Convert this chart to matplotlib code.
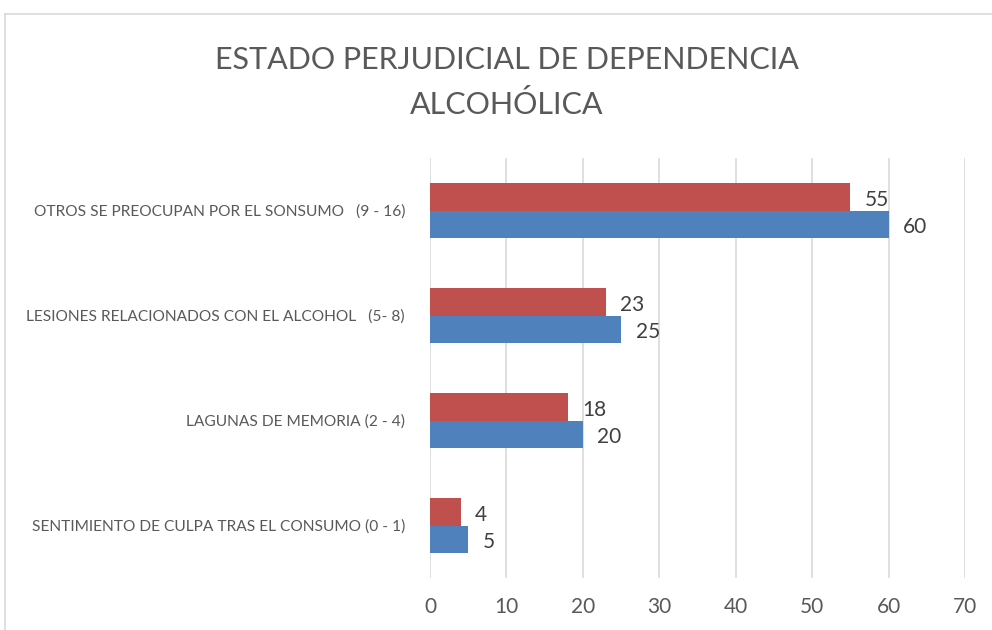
import matplotlib
matplotlib.use("Agg")
import matplotlib.pyplot as plt
from matplotlib.lines import Line2D
import numpy as np

categories = [
    "OTROS SE PREOCUPAN POR EL SONSUMO   (9 - 16)",
    "LESIONES RELACIONADOS CON EL ALCOHOL   (5- 8)",
    "LAGUNAS DE MEMORIA (2 - 4)",
    "SENTIMIENTO DE CULPA TRAS EL CONSUMO (0 - 1)",
]
series_red = [55, 23, 18, 4]
series_blue = [60, 25, 20, 5]
xticks = [0, 10, 20, 30, 40, 50, 60, 70]

plt.rcParams['font.family'] = ['Lato', 'DejaVu Sans']
txt = '#595959'
red = '#C0504D'
blue = '#4F81BD'

W, H = 992, 630
fig = plt.figure(figsize=(W/100, H/100), dpi=100)
ax = fig.add_axes([430/W, 1-578/H, 535/W, 420/H])

y = np.arange(len(categories))
h = 0.26
ax.barh(y - h/2, series_red, height=h, color=red, zorder=3)
ax.barh(y + h/2, series_blue, height=h, color=blue, zorder=3)
for yi, v in zip(y, series_red):
    ax.text(v + 1.9, yi - h/2 + 0.03, str(v), va='center', ha='left', fontsize=15, color='#404040')
for yi, v in zip(y, series_blue):
    ax.text(v + 1.9, yi + h/2 + 0.03, str(v), va='center', ha='left', fontsize=15, color='#404040')

ax.set_ylim(len(categories) - 0.5, -0.5)
ax.set_xlim(0, 70)
ax.set_xticks(xticks)
ax.set_xticklabels([str(t) for t in xticks], fontsize=15, color=txt)
ax.set_yticks(y)
ax.set_yticklabels(categories, fontsize=11.2, color=txt)
ax.tick_params(axis='both', length=0)
ax.tick_params(axis='x', pad=14)
ax.tick_params(axis='y', pad=18)
ax.grid(axis='x', color='#D9D9D9', linewidth=1.2, zorder=0)
for s in ax.spines.values():
    s.set_visible(False)

fig.text(507/W, 1-60/H, "ESTADO PERJUDICIAL DE DEPENDENCIA", ha='center', va='center', fontsize=22, color=txt)
fig.text(507/W, 1-105/H, "ALCOHÓLICA", ha='center', va='center', fontsize=22, color=txt)

# outer border
fig.add_artist(Line2D([5/W, 1.0], [1-14/H, 1-14/H], transform=fig.transFigure, color='#D9D9D9', linewidth=1.2))
fig.add_artist(Line2D([5/W, 5/W], [0, 1-14/H], transform=fig.transFigure, color='#D9D9D9', linewidth=1.2))

fig.savefig("out.png", dpi=100)
